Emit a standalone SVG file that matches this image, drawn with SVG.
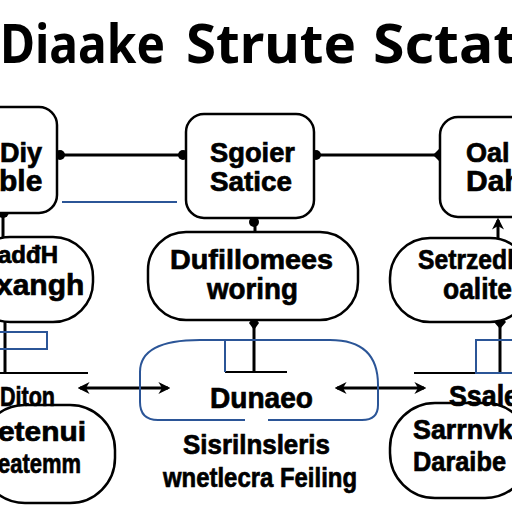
<svg xmlns="http://www.w3.org/2000/svg" width="512" height="512" viewBox="0 0 512 512">
<defs>
<style>
.box{fill:#fff;stroke:#000;stroke-width:2.5}
.ln{stroke:#000;stroke-width:3;fill:none}
.bl{stroke:#2b5597;stroke-width:2;fill:none}
.t{font-family:"Liberation Sans",Arial,sans-serif;font-weight:bold;fill:#000;stroke:#000;stroke-width:0.7}
.h{font-family:"Noto Sans","DejaVu Sans",sans-serif;font-weight:bold;fill:#000;font-size:54px}
</style>
<marker id="ah" viewBox="0 0 10 10" refX="8" refY="5" markerWidth="4" markerHeight="4" orient="auto-start-reverse" markerUnits="strokeWidth">
<path d="M0,0 L10,5 L0,10 L3,5 z" fill="#000"/>
</marker>
</defs>
<rect width="512" height="512" fill="#fff"/>
<g id="title">
<text class="h" x="0" y="63" textLength="165" lengthAdjust="spacingAndGlyphs">Diaake</text>
<text class="h" x="186" y="63" textLength="170" lengthAdjust="spacingAndGlyphs">Strute</text>
<text class="h" x="373" y="63" textLength="145" lengthAdjust="spacingAndGlyphs">Sctat</text>
</g>
<g id="connectors">
<line class="ln" x1="60" y1="155" x2="186" y2="155"/>
<circle cx="60" cy="155" r="5"/><circle cx="183" cy="155" r="5"/>
<line class="ln" x1="316" y1="155" x2="440" y2="155"/>
<circle cx="316" cy="155" r="5"/><path d="M433,155 L439,149 L445,155 L439,161 z"/>
<line class="bl" x1="62" y1="202" x2="177" y2="202"/>
<line class="ln" x1="3" y1="210" x2="3" y2="237"/><circle cx="3" cy="212" r="6"/>
<line class="ln" x1="255" y1="218" x2="255" y2="232"/><circle cx="254" cy="222" r="5"/>
<line class="ln" x1="498" y1="238" x2="498" y2="220" marker-end="url(#ah)"/>
<line class="ln" x1="254" y1="323" x2="254" y2="372"/><path d="M254,316 L259,323 L254,330 L249,323 z"/>
<line class="ln" x1="225" y1="372" x2="287" y2="372" style="stroke-width:2"/>
<line class="bl" x1="225" y1="340" x2="225" y2="372"/>
<line class="ln" x1="5" y1="322" x2="5" y2="372"/>
<line class="ln" x1="0" y1="373" x2="88" y2="373" style="stroke-width:2"/>
<rect class="bl" x="-2" y="332" width="49" height="17"/>
<line class="ln" x1="80" y1="388" x2="168" y2="388" marker-start="url(#ah)" marker-end="url(#ah)"/>
<line class="ln" x1="337" y1="388" x2="424" y2="388" marker-start="url(#ah)" marker-end="url(#ah)"/>
<line class="ln" x1="500" y1="322" x2="500" y2="373"/><path d="M500,315 L506,322 L500,329 L494,322 z"/>
<line class="ln" x1="414" y1="373" x2="512" y2="373" style="stroke-width:2"/>
<rect class="bl" x="476" y="340" width="40" height="33"/>
<path class="bl" d="M245,420 L158,420 Q140,420 140,402 L140,372 Q140,340 200,340 L330,340 Q378,340 378,385 L378,405 Q378,420 362,420 L268,420"/>
</g>
<g id="n1"><rect class="box" x="-20" y="107" width="77" height="106" rx="18"/>
<text class="t" x="0" y="162" font-size="27">Diy</text><text class="t" x="-1" y="191" font-size="30">ble</text></g>
<g id="n2"><rect class="box" x="186" y="114" width="128" height="104" rx="18"/>
<text class="t" x="210" y="162" font-size="28" textLength="85" lengthAdjust="spacingAndGlyphs">Sgoier</text>
<text class="t" x="210" y="191" font-size="28" textLength="82" lengthAdjust="spacingAndGlyphs">Satice</text></g>
<g id="n3"><rect class="box" x="440" y="117" width="100" height="100" rx="18"/>
<text class="t" x="466" y="162" font-size="27">Oal c</text><text class="t" x="466" y="191" font-size="30">Dah</text></g>
<g id="n4"><rect class="box" x="-30" y="237" width="123" height="85" rx="40"/>
<text class="t" x="-2" y="263" font-size="24">adđH</text><text class="t" x="-4" y="295" font-size="30">xangh</text></g>
<g id="n5"><rect class="box" x="148" y="232" width="210" height="88" rx="38"/>
<text class="t" x="170" y="269" font-size="28" textLength="163" lengthAdjust="spacingAndGlyphs">Dufillomees</text>
<text class="t" x="207" y="299" font-size="30" textLength="91" lengthAdjust="spacingAndGlyphs">woring</text></g>
<g id="n6"><rect class="box" x="390" y="238" width="140" height="84" rx="40"/>
<text class="t" x="418" y="269" font-size="28" textLength="96" lengthAdjust="spacingAndGlyphs">Setrzedl</text>
<text class="t" x="443" y="299" font-size="30" textLength="69" lengthAdjust="spacingAndGlyphs">oalite</text></g>
<g id="n7"><rect class="box" x="-20" y="405" width="135" height="98" rx="45"/>
<text class="t" x="0" y="406" font-size="28" textLength="55" lengthAdjust="spacingAndGlyphs">Diton</text>
<text class="t" x="-2" y="441" font-size="28" textLength="88" lengthAdjust="spacingAndGlyphs">etenui</text>
<text class="t" x="-2" y="473" font-size="28" textLength="83" lengthAdjust="spacingAndGlyphs">eatemm</text></g>
<g id="n8">
<text class="t" x="210" y="408" font-size="29" textLength="103" lengthAdjust="spacingAndGlyphs">Dunaeo</text>
<text class="t" x="183" y="454" font-size="28" textLength="147" lengthAdjust="spacingAndGlyphs">Sisrilnsleris</text>
<text class="t" x="163" y="487" font-size="28" textLength="194" lengthAdjust="spacingAndGlyphs">wnetlecra Feiling</text></g>
<g id="n9"><rect class="box" x="390" y="403" width="140" height="95" rx="45"/>
<text class="t" x="449" y="406" font-size="29" textLength="70" lengthAdjust="spacingAndGlyphs">Ssale</text>
<text class="t" x="413" y="439" font-size="28" textLength="100" lengthAdjust="spacingAndGlyphs">Sarrnvk</text>
<text class="t" x="413" y="471" font-size="28" textLength="93" lengthAdjust="spacingAndGlyphs">Daraibe</text></g>
</svg>
